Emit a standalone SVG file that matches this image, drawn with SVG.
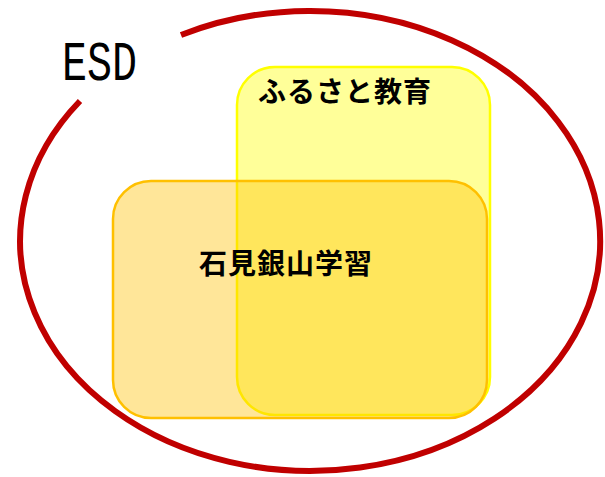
<svg xmlns="http://www.w3.org/2000/svg" width="605" height="477" viewBox="0 0 605 477">
<style>
.jp{font-family:"Noto Sans CJK JP","Noto Sans",sans-serif;font-weight:bold;font-size:28px;fill:#000}
</style>
<rect width="605" height="477" fill="#fff"/>
<g id="esd">
<path d="M181,35 A290,230 0 1 1 80,101" fill="none" stroke="#C00000" stroke-width="6"/>
<text x="62" y="80" font-family="Liberation Mono, monospace" font-size="55" textLength="75" lengthAdjust="spacingAndGlyphs" fill="#000">ESD</text>
</g>
<g id="furusato">
<rect x="237" y="67" width="253" height="348" rx="38" fill="#FFFF99" stroke="#FFFF00" stroke-width="2.5"/>
<text class="jp" x="258" y="102" letter-spacing="1">ふるさと教育</text>
</g>
<g id="iwami">
<rect x="113" y="181" width="374" height="237" rx="38" fill="#FFC000" fill-opacity="0.4" stroke="#FFC000" stroke-width="2.5"/>
<text class="jp" x="199" y="274" letter-spacing="1">石見銀山学習</text>
</g>
</svg>
